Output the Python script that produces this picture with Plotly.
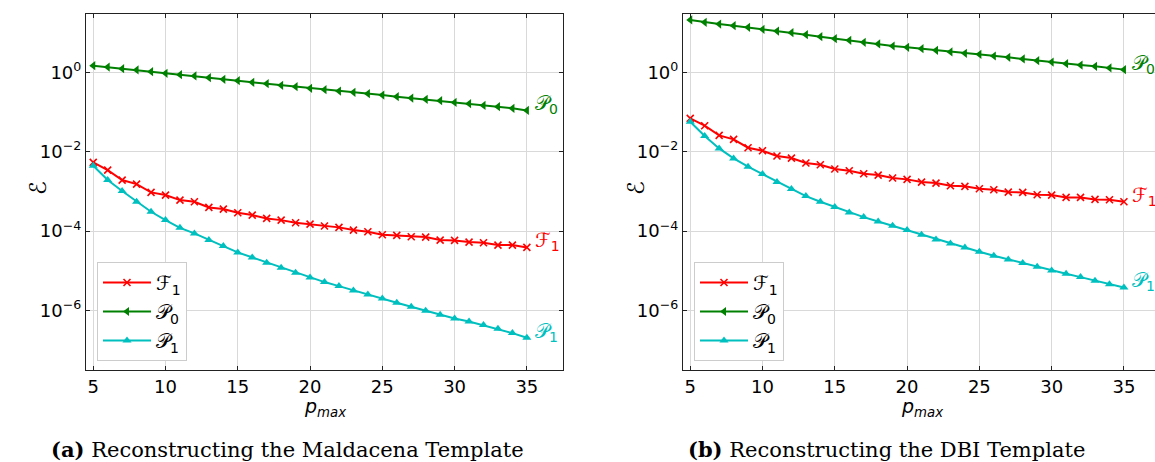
import plotly.graph_objects as go
import numpy as np

p_max = list(range(5, 36))

# (a) Maldacena template
mald_F1 = [5.38e-3, 3.45e-3, 1.93e-3, 1.53e-3, 9.44e-4, 8.09e-4, 6.05e-4, 5.49e-4, 3.95e-4, 3.59e-4,
           2.90e-4, 2.53e-4, 2.09e-4, 1.89e-4, 1.62e-4, 1.50e-4, 1.34e-4, 1.24e-4, 1.06e-4, 9.62e-5,
           8.09e-5, 7.78e-5, 7.20e-5, 7.06e-5, 5.93e-5, 5.82e-5, 5.28e-5, 5.08e-5, 4.44e-5, 4.44e-5, 3.88e-5]
mald_P0 = [1.47, 1.36, 1.24, 1.15, 1.04, 0.944, 0.873, 0.809, 0.734, 0.667,
           0.617, 0.560, 0.518, 0.470, 0.435, 0.395, 0.366, 0.338, 0.313, 0.290,
           0.268, 0.244, 0.225, 0.209, 0.193, 0.175, 0.162, 0.147, 0.136, 0.124, 0.110]
mald_P1 = [4.44e-3, 1.93e-3, 1.02e-3, 5.49e-4, 3.07e-4, 1.89e-4, 1.21e-4, 8.73e-5, 5.93e-5, 4.19e-5,
           2.90e-5, 2.17e-5, 1.59e-5, 1.19e-5, 8.91e-6, 6.79e-6, 5.19e-6, 4.11e-6, 3.20e-6, 2.54e-6,
           2.01e-6, 1.56e-6, 1.24e-6, 9.82e-7, 7.78e-7, 6.29e-7, 5.29e-7, 4.28e-7, 3.45e-7, 2.69e-7, 2.05e-7]

# (b) DBI template
dbi_F1 = [6.92e-2, 4.52e-2, 2.58e-2, 2.05e-2, 1.26e-2, 1.06e-2, 7.78e-3, 6.92e-3, 5.18e-3, 4.70e-3,
          3.66e-3, 3.32e-3, 2.79e-3, 2.58e-3, 2.17e-3, 2.01e-3, 1.72e-3, 1.62e-3, 1.39e-3, 1.34e-3,
          1.17e-3, 1.10e-3, 9.62e-4, 9.44e-4, 8.24e-4, 8.09e-4, 7.06e-4, 7.06e-4, 6.28e-4, 6.17e-4, 5.49e-4]
dbi_P0 = [20.9, 18.2, 16.5, 15.0, 13.6, 12.1, 11.0, 10.0, 8.91, 7.93,
          7.06, 6.41, 5.70, 5.18, 4.61, 4.27, 3.95, 3.59, 3.26, 3.01,
          2.84, 2.58, 2.39, 2.17, 1.97, 1.82, 1.65, 1.53, 1.42, 1.29, 1.17]
dbi_P1 = [5.70e-2, 2.48e-2, 1.21e-2, 6.79e-3, 4.19e-3, 2.74e-3, 1.72e-3, 1.15e-3, 7.62e-4, 5.49e-4,
          4.03e-4, 2.96e-4, 2.25e-4, 1.75e-4, 1.36e-4, 1.06e-4, 8.09e-5, 6.17e-5, 4.89e-5, 3.88e-5,
          3.01e-5, 2.39e-5, 1.93e-5, 1.56e-5, 1.26e-5, 1.02e-5, 8.40e-6, 6.93e-6, 5.60e-6, 4.61e-6, 3.80e-6]

series_names = ["\u2131<sub>1</sub>", "\U0001D4AB<sub>0</sub>", "\U0001D4AB<sub>1</sub>"]
colors = ["#ff0000", "#008000", "#00bfbf"]
symbols = ["x-thin", "triangle-left", "triangle-up"]
y_tickvals = [1e-6, 1e-4, 1e-2, 1]
y_ticktext = ["10<sup>\u22126</sup>", "10<sup>\u22124</sup>", "10<sup>\u22122</sup>", "10<sup>0</sup>"]
x_tickvals = [5, 10, 15, 20, 25, 30, 35]
captions = ["<b>(a)</b> Reconstructing the Maldacena Template", "<b>(b)</b> Reconstructing the DBI Template"]

W, H = 1155, 462
fig = go.Figure()

panels = [(mald_F1, mald_P0, mald_P1), (dbi_F1, dbi_P0, dbi_P1)]
for pi, data in enumerate(panels):
    xa = "x" if pi == 0 else "x2"
    ya = "y" if pi == 0 else "y2"
    leg = "legend" if pi == 0 else "legend2"
    for si, ys in enumerate(data):
        sym = symbols[si]
        mk = dict(symbol=sym, size=8 if si else 7, color=colors[si],
                  line=dict(width=1.6 if si == 0 else 0, color=colors[si]))
        fig.add_trace(go.Scatter(x=p_max, y=ys, mode="lines+markers", name=series_names[si],
                                 line=dict(color=colors[si], width=2), marker=mk,
                                 xaxis=xa, yaxis=ya, legend=leg, showlegend=True))
        # end label
        fig.add_annotation(x=p_max[-1], y=np.log10(ys[-1]), xref=xa, yref=ya,
                           text=series_names[si], showarrow=False, xanchor="left", yanchor="middle",
                           xshift=6, yshift=6, font=dict(size=20, color=colors[si], family="DejaVu Sans"))

axis_common = dict(showline=True, linecolor="#222", linewidth=1.2, ticks="inside", ticklen=4,
                   tickwidth=1, tickcolor="#222", showgrid=True, gridcolor="#d9d9d9", gridwidth=1,
                   zeroline=False, tickfont=dict(family="DejaVu Sans", size=18, color="#000"))

ydom = [(H - 370) / H, (H - 14) / H]
fig.update_layout(
    width=W, height=H, margin=dict(l=0, r=0, t=0, b=0),
    paper_bgcolor="white", plot_bgcolor="white",
    xaxis=dict(domain=[86 / W, 563 / W], range=[4.5, 37.5], tickvals=x_tickvals, mirror="ticks",
               anchor="y", **axis_common),
    yaxis=dict(domain=ydom, type="log", range=[-7.5, 1.47], tickvals=y_tickvals, ticktext=y_ticktext,
               mirror="ticks", anchor="x", **axis_common),
    xaxis2=dict(domain=[683 / W, 1.0], range=[4.5, 37.15], tickvals=x_tickvals, mirror="ticks",
                anchor="y2", **axis_common),
    yaxis2=dict(domain=ydom, type="log", range=[-7.5, 1.47], tickvals=y_tickvals, ticktext=y_ticktext,
                mirror=False, anchor="x2", **axis_common),
    legend=dict(x=97 / W, y=1 - 262 / H, xanchor="left", yanchor="top", bgcolor="white",
                bordercolor="#cccccc", borderwidth=1, font=dict(size=20, family="DejaVu Sans", color="#000"),
                itemwidth=48),
    legend2=dict(x=694 / W, y=1 - 262 / H, xanchor="left", yanchor="top", bgcolor="white",
                 bordercolor="#cccccc", borderwidth=1, font=dict(size=20, family="DejaVu Sans", color="#000"),
                 itemwidth=48),
)

# axis titles
for cx in [(86 + 563) / 2, (683 + 1160) / 2]:
    fig.add_annotation(x=cx / W, y=1 - 407 / H, xref="paper", yref="paper", showarrow=False,
                       text="<i>p<sub>max</sub></i>", font=dict(size=19, family="DejaVu Sans", color="#000"),
                       xanchor="center", yanchor="middle")
for cx in [38, 636]:
    fig.add_annotation(x=cx / W, y=1 - 188 / H, xref="paper", yref="paper", showarrow=False,
                       text="\u2130", textangle=-90, font=dict(size=23, family="DejaVu Sans", color="#000"),
                       xanchor="center", yanchor="middle")
# captions
for cx, txt in zip([287, 886], captions):
    fig.add_annotation(x=cx / W, y=1 - 449 / H, xref="paper", yref="paper", showarrow=False,
                       text=txt, font=dict(size=21, family="DejaVu Serif", color="#000"),
                       xanchor="center", yanchor="middle")

fig.write_html("out.html")
